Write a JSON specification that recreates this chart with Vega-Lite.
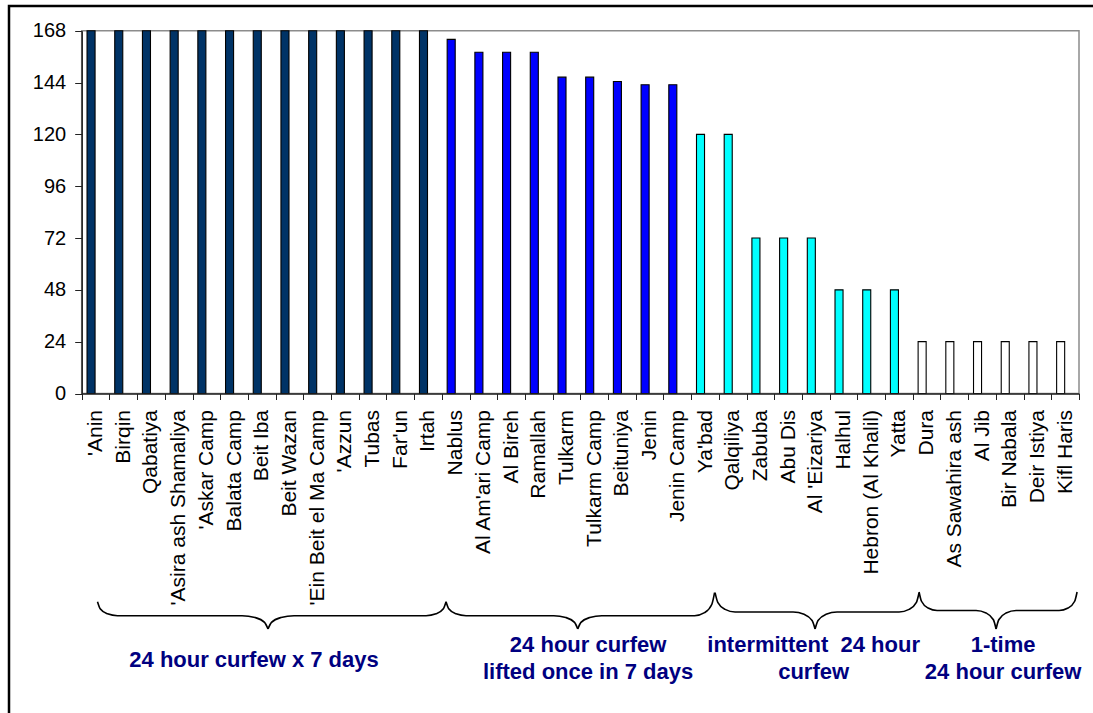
{
  "$schema": "https://vega.github.io/schema/vega-lite/v6.json",
  "width": 1090,
  "height": 712,
  "autosize": {"type": "none"},
  "padding": {"left": 9, "top": 6, "right": 0, "bottom": 0},
  "background": "white",
  "config": {"view": {"stroke": "#000000", "strokeWidth": 2.5}, "font": "Liberation Sans"},
  "datasets": {
    "bars": [
      {"place": "'Anin", "hours": 168, "grp": "a"},
      {"place": "Birqin", "hours": 168, "grp": "a"},
      {"place": "Qabatiya", "hours": 168, "grp": "a"},
      {"place": "'Asira ash Shamaliya", "hours": 168, "grp": "a"},
      {"place": "'Askar Camp", "hours": 168, "grp": "a"},
      {"place": "Balata Camp", "hours": 168, "grp": "a"},
      {"place": "Beit Iba", "hours": 168, "grp": "a"},
      {"place": "Beit Wazan", "hours": 168, "grp": "a"},
      {"place": "'Ein Beit el Ma Camp", "hours": 168, "grp": "a"},
      {"place": "'Azzun", "hours": 168, "grp": "a"},
      {"place": "Tubas", "hours": 168, "grp": "a"},
      {"place": "Far'un", "hours": 168, "grp": "a"},
      {"place": "Irtah", "hours": 168, "grp": "a"},
      {"place": "Nablus", "hours": 164, "grp": "b"},
      {"place": "Al Am'ari Camp", "hours": 158, "grp": "b"},
      {"place": "Al Bireh", "hours": 158, "grp": "b"},
      {"place": "Ramallah", "hours": 158, "grp": "b"},
      {"place": "Tulkarm", "hours": 146.5, "grp": "b"},
      {"place": "Tulkarm Camp", "hours": 146.5, "grp": "b"},
      {"place": "Beituniya", "hours": 144.5, "grp": "b"},
      {"place": "Jenin", "hours": 143, "grp": "b"},
      {"place": "Jenin Camp", "hours": 143, "grp": "b"},
      {"place": "Ya'bad", "hours": 120, "grp": "c"},
      {"place": "Qalqiliya", "hours": 120, "grp": "c"},
      {"place": "Zabuba", "hours": 72, "grp": "c"},
      {"place": "Abu Dis", "hours": 72, "grp": "c"},
      {"place": "Al 'Eizariya", "hours": 72, "grp": "c"},
      {"place": "Halhul", "hours": 48, "grp": "c"},
      {"place": "Hebron (Al Khalil)", "hours": 48, "grp": "c"},
      {"place": "Yatta", "hours": 48, "grp": "c"},
      {"place": "Dura", "hours": 24, "grp": "d"},
      {"place": "As Sawahira ash", "hours": 24, "grp": "d"},
      {"place": "Al Jib", "hours": 24, "grp": "d"},
      {"place": "Bir Nabala", "hours": 24, "grp": "d"},
      {"place": "Deir Istiya", "hours": 24, "grp": "d"},
      {"place": "Kifl Haris", "hours": 24, "grp": "d"}
    ],
    "frame": [{"x0": 0, "x1": 36, "y0": 0, "y1": 168}],
    "braces": [
      {"part": "b1L", "seq": 1, "bx": 0.570, "by": -96.41},
      {"part": "b1L", "seq": 2, "bx": 0.667, "by": -99.65},
      {"part": "b1L", "seq": 3, "bx": 0.931, "by": -102.02},
      {"part": "b1L", "seq": 4, "bx": 1.292, "by": -102.89},
      {"part": "b1L", "seq": 5, "bx": 5.787, "by": -102.89},
      {"part": "b1L", "seq": 6, "bx": 6.256, "by": -103.72},
      {"part": "b1L", "seq": 7, "bx": 6.600, "by": -105.97},
      {"part": "b1L", "seq": 8, "bx": 6.726, "by": -109.05},
      {"part": "b1R", "seq": 1, "bx": 6.726, "by": -109.05},
      {"part": "b1R", "seq": 2, "bx": 6.851, "by": -105.97},
      {"part": "b1R", "seq": 3, "bx": 7.195, "by": -103.72},
      {"part": "b1R", "seq": 4, "bx": 7.664, "by": -102.89},
      {"part": "b1R", "seq": 5, "bx": 12.430, "by": -102.89},
      {"part": "b1R", "seq": 6, "bx": 12.791, "by": -102.02},
      {"part": "b1R", "seq": 7, "bx": 13.055, "by": -99.65},
      {"part": "b1R", "seq": 8, "bx": 13.152, "by": -96.41},
      {"part": "b2L", "seq": 1, "bx": 13.152, "by": -96.41},
      {"part": "b2L", "seq": 2, "bx": 13.249, "by": -99.65},
      {"part": "b2L", "seq": 3, "bx": 13.513, "by": -102.02},
      {"part": "b2L", "seq": 4, "bx": 13.874, "by": -102.89},
      {"part": "b2L", "seq": 5, "bx": 17.040, "by": -102.89},
      {"part": "b2L", "seq": 6, "bx": 17.473, "by": -103.72},
      {"part": "b2L", "seq": 7, "bx": 17.790, "by": -105.97},
      {"part": "b2L", "seq": 8, "bx": 17.906, "by": -109.05},
      {"part": "b2R", "seq": 1, "bx": 17.906, "by": -109.05},
      {"part": "b2R", "seq": 2, "bx": 18.022, "by": -105.97},
      {"part": "b2R", "seq": 3, "bx": 18.339, "by": -103.72},
      {"part": "b2R", "seq": 4, "bx": 18.773, "by": -102.89},
      {"part": "b2R", "seq": 5, "bx": 22.123, "by": -102.89},
      {"part": "b2R", "seq": 6, "bx": 22.484, "by": -101.47},
      {"part": "b2R", "seq": 7, "bx": 22.748, "by": -97.57},
      {"part": "b2R", "seq": 8, "bx": 22.845, "by": -92.24},
      {"part": "b3L", "seq": 1, "bx": 22.863, "by": -92.24},
      {"part": "b3L", "seq": 2, "bx": 22.960, "by": -96.71},
      {"part": "b3L", "seq": 3, "bx": 23.224, "by": -99.98},
      {"part": "b3L", "seq": 4, "bx": 23.585, "by": -101.18},
      {"part": "b3L", "seq": 5, "bx": 25.679, "by": -101.18},
      {"part": "b3L", "seq": 6, "bx": 26.076, "by": -102.24},
      {"part": "b3L", "seq": 7, "bx": 26.366, "by": -105.12},
      {"part": "b3L", "seq": 8, "bx": 26.473, "by": -109.05},
      {"part": "b3R", "seq": 1, "bx": 26.473, "by": -109.05},
      {"part": "b3R", "seq": 2, "bx": 26.580, "by": -105.12},
      {"part": "b3R", "seq": 3, "bx": 26.870, "by": -102.24},
      {"part": "b3R", "seq": 4, "bx": 27.267, "by": -101.18},
      {"part": "b3R", "seq": 5, "bx": 29.505, "by": -101.18},
      {"part": "b3R", "seq": 6, "bx": 29.866, "by": -99.98},
      {"part": "b3R", "seq": 7, "bx": 30.131, "by": -96.71},
      {"part": "b3R", "seq": 8, "bx": 30.227, "by": -92.24},
      {"part": "b4L", "seq": 1, "bx": 30.227, "by": -91.92},
      {"part": "b4L", "seq": 2, "bx": 30.314, "by": -96.20},
      {"part": "b4L", "seq": 3, "bx": 30.552, "by": -99.34},
      {"part": "b4L", "seq": 4, "bx": 30.877, "by": -100.49},
      {"part": "b4L", "seq": 5, "bx": 32.285, "by": -100.49},
      {"part": "b4L", "seq": 6, "bx": 32.646, "by": -101.63},
      {"part": "b4L", "seq": 7, "bx": 32.911, "by": -104.77},
      {"part": "b4L", "seq": 8, "bx": 33.007, "by": -109.05},
      {"part": "b4R", "seq": 1, "bx": 33.007, "by": -109.05},
      {"part": "b4R", "seq": 2, "bx": 33.104, "by": -104.77},
      {"part": "b4R", "seq": 3, "bx": 33.368, "by": -101.63},
      {"part": "b4R", "seq": 4, "bx": 33.729, "by": -100.49},
      {"part": "b4R", "seq": 5, "bx": 35.282, "by": -100.49},
      {"part": "b4R", "seq": 6, "bx": 35.606, "by": -99.34},
      {"part": "b4R", "seq": 7, "bx": 35.844, "by": -96.20},
      {"part": "b4R", "seq": 8, "bx": 35.931, "by": -91.92}
    ],
    "groups": [
      {"label": "24 hour curfew x 7 days", "lx": 6.22, "ly": -123.4},
      {"label": "24 hour curfew\nlifted once in 7 days", "lx": 18.28, "ly": -116.5},
      {"label": "intermittent \u00a024 hour\ncurfew", "lx": 26.42, "ly": -116.5},
      {"label": "1-time\n24 hour curfew", "lx": 33.26, "ly": -116.5}
    ]
  },
  "layer": [
    {
      "data": {"name": "frame"},
      "mark": {"type": "rect", "fillOpacity": 0, "stroke": "#8c8c8c", "strokeWidth": 1.5},
      "encoding": {
        "x": {"field": "x0", "type": "quantitative", "scale": {"domain": [0, 36], "range": [72.7, 1070], "nice": false, "zero": false}, "axis": null},
        "x2": {"field": "x1"},
        "y": {"field": "y0", "type": "quantitative", "scale": {"domain": [0, 168], "range": [387.5, 24.7], "nice": false, "zero": false}, "axis": null},
        "y2": {"field": "y1"}
      }
    },
    {
      "data": {"name": "bars"},
      "mark": {"type": "bar", "width": {"band": 0.29}, "xOffset": -4.5, "stroke": "#000000", "strokeWidth": 1.1},
      "encoding": {
        "x": {
          "field": "place", "type": "nominal", "sort": null,
          "scale": {"range": [72.7, 1070], "paddingInner": 0, "paddingOuter": 0},
          "axis": {
            "title": null, "orient": "bottom", "offset": -324.5, "labelAngle": 270,
            "labelFontSize": 21, "labelFont": "Liberation Sans", "labelColor": "#000000",
            "labelPadding": 10, "labelLimit": 500, "labelOverlap": false,
            "tickSize": 6, "tickColor": "#222222", "domainColor": "#222222", "domainWidth": 1.5,
            "tickBand": "extent", "grid": false, "zindex": 1
          }
        },
        "y": {
          "field": "hours", "type": "quantitative",
          "scale": {"domain": [0, 168], "range": [387.5, 24.7], "nice": false, "zero": false},
          "axis": {
            "title": null, "values": [0, 24, 48, 72, 96, 120, 144, 168], "offset": -72.7,
            "labelFontSize": 20, "labelFont": "Liberation Sans", "labelColor": "#000000",
            "labelPadding": 9, "tickSize": 7, "tickColor": "#222222",
            "domainColor": "#222222", "domainWidth": 1.5, "grid": false, "zindex": 1
          }
        },
        "fill": {
          "field": "grp", "type": "nominal",
          "scale": {"domain": ["a", "b", "c", "d"], "range": ["#003366", "#0000ff", "#00ffff", "#ffffff"]},
          "legend": null
        }
      }
    },
    {
      "data": {"name": "braces"},
      "mark": {"type": "line", "interpolate": "monotone", "stroke": "#000000", "strokeWidth": 1.6},
      "encoding": {
        "x": {"field": "bx", "type": "quantitative", "scale": {"domain": [0, 36], "range": [72.7, 1070], "nice": false, "zero": false}, "axis": null},
        "y": {"field": "by", "type": "quantitative", "scale": {"domain": [0, 168], "range": [387.5, 24.7], "nice": false, "zero": false}, "axis": null},
        "detail": {"field": "part", "type": "nominal"},
        "order": {"field": "seq", "type": "quantitative"}
      }
    },
    {
      "data": {"name": "groups"},
      "mark": {"type": "text", "fontSize": 22, "fontWeight": "bold", "color": "#000080", "lineBreak": "\n", "lineHeight": 27, "align": "center", "baseline": "middle", "font": "Liberation Sans"},
      "encoding": {
        "x": {"field": "lx", "type": "quantitative", "scale": {"domain": [0, 36], "range": [72.7, 1070], "nice": false, "zero": false}, "axis": null},
        "y": {"field": "ly", "type": "quantitative", "scale": {"domain": [0, 168], "range": [387.5, 24.7], "nice": false, "zero": false}, "axis": null},
        "text": {"field": "label", "type": "nominal"}
      }
    }
  ],
  "resolve": {"scale": {"x": "independent", "y": "independent"}}
}
